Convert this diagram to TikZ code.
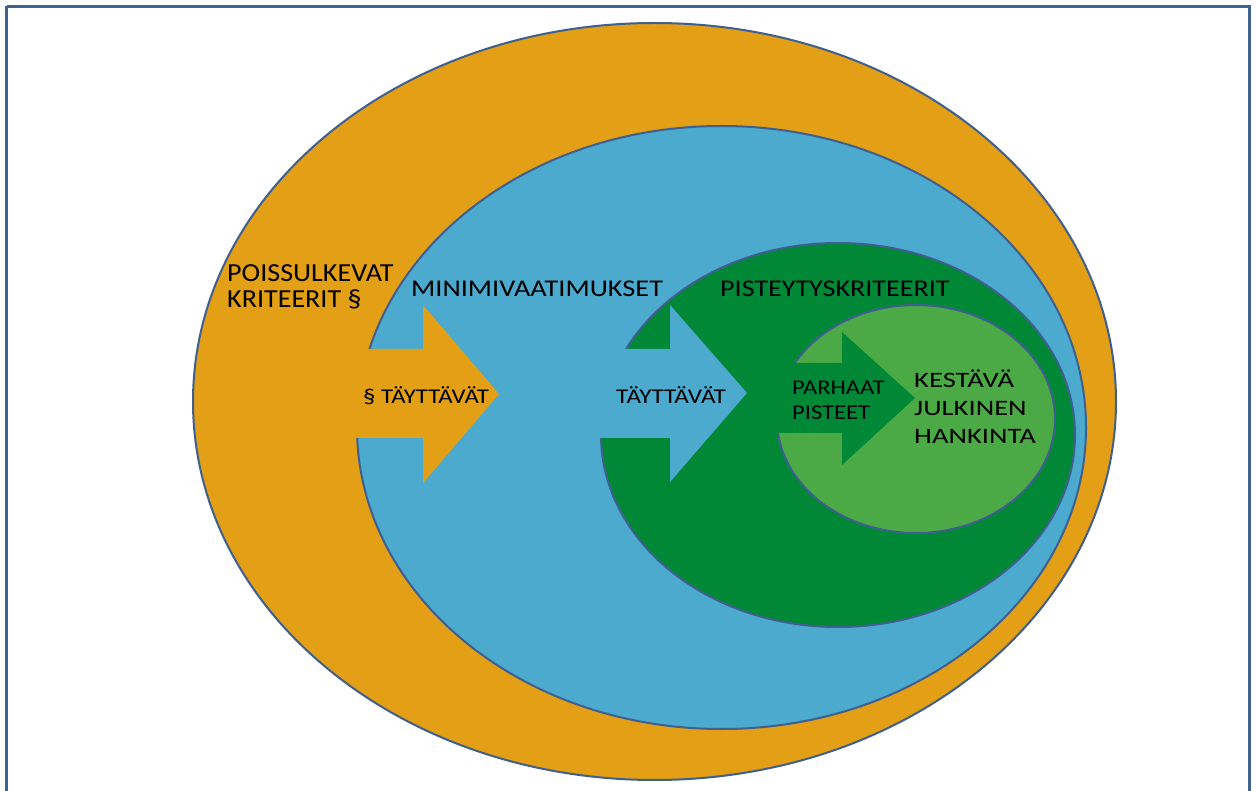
\documentclass[tikz,border=0pt]{standalone}
\usepackage{fontspec}
\setmainfont{Carlito}
\definecolor{framec}{HTML}{3F6391}
\definecolor{edgec}{HTML}{3E5F90}
\definecolor{orangec}{HTML}{E39F15}
\definecolor{bluec}{HTML}{4BAACD}
\definecolor{dgreenc}{HTML}{008837}
\definecolor{lgreenc}{HTML}{4BAA46}
\newcommand{\wid}[2]{\scalebox{#1}[1]{#2}}
\begin{document}
\begin{tikzpicture}[x=1pt,y=-1pt,
  ring/.style={draw=edgec,line width=2pt},
  lbl/.style={inner sep=0pt,anchor=base west,text=black},
  big/.style={font=\fontsize{26}{30}\selectfont},
  mid/.style={font=\fontsize{24}{28}\selectfont},
  small/.style={font=\fontsize{21}{25}\selectfont},
  inner/.style={font=\fontsize{22}{26}\selectfont}]
\useasboundingbox (0,0) rectangle (1256,791);
\draw[framec,line width=3pt] (6.5,6.5) -- (1249.5,6.5) -- (1249.5,800) (6.5,6.5) -- (6.5,800);
% nested ellipses and arrows
\draw[ring,fill=orangec] (654.5,401.5) ellipse [x radius=461.5pt,y radius=378.5pt];
\draw[ring,fill=bluec] (721.5,427.5) ellipse [x radius=364.5pt,y radius=301.5pt];
\fill[orangec] (340,349) -- (423,349) -- (423,305) -- (499,394) -- (423,483) -- (423,438) -- (340,438) -- cycle;
\draw[ring,fill=dgreenc] (838,435) ellipse [x radius=237pt,y radius=192pt];
\fill[bluec] (590,349) -- (670,349) -- (670,305) -- (747,393) -- (670,482) -- (670,438) -- (590,438) -- cycle;
\draw[ring,fill=lgreenc] (916,419) ellipse [x radius=139pt,y radius=114pt];
\fill[dgreenc] (770,363) -- (842,363) -- (842,332) -- (915,398) -- (842,465) -- (842,433) -- (770,433) -- cycle;
% labels
\node[lbl,big] (p1) at (227,282) {\wid{1.08}{POISSULKEVAT}};
\node[lbl,big] (p2) at (227,308) {\wid{1.08}{KRITEERIT §}};
\node[lbl,mid] (m1) at (411,297) {\wid{1.18}{MINIMIVAATIMUKSET}};
\node[lbl,mid] (s1) at (720,297) {\wid{1.17}{PISTEYTYSKRITEERIT}};
\node[lbl,small] (t1) at (363,404) {\wid{1.18}{§ TÄYTTÄVÄT}};
\node[lbl,small] (t2) at (616,403.5) {\wid{1.2}{TÄYTTÄVÄT}};
\node[lbl,small] (h1) at (792,395) {\wid{1.17}{PARHAAT}};
\node[lbl,small] (h2) at (792,420) {\wid{1.17}{PISTEET}};
\node[lbl,inner] (k1) at (914,387.5) {\wid{1.3}{KESTÄVÄ}};
\node[lbl,inner] (k2) at (914,415.5) {\wid{1.3}{JULKINEN}};
\node[lbl,inner] (k3) at (914,444) {\wid{1.3}{HANKINTA}};
\end{tikzpicture}
\end{document}
